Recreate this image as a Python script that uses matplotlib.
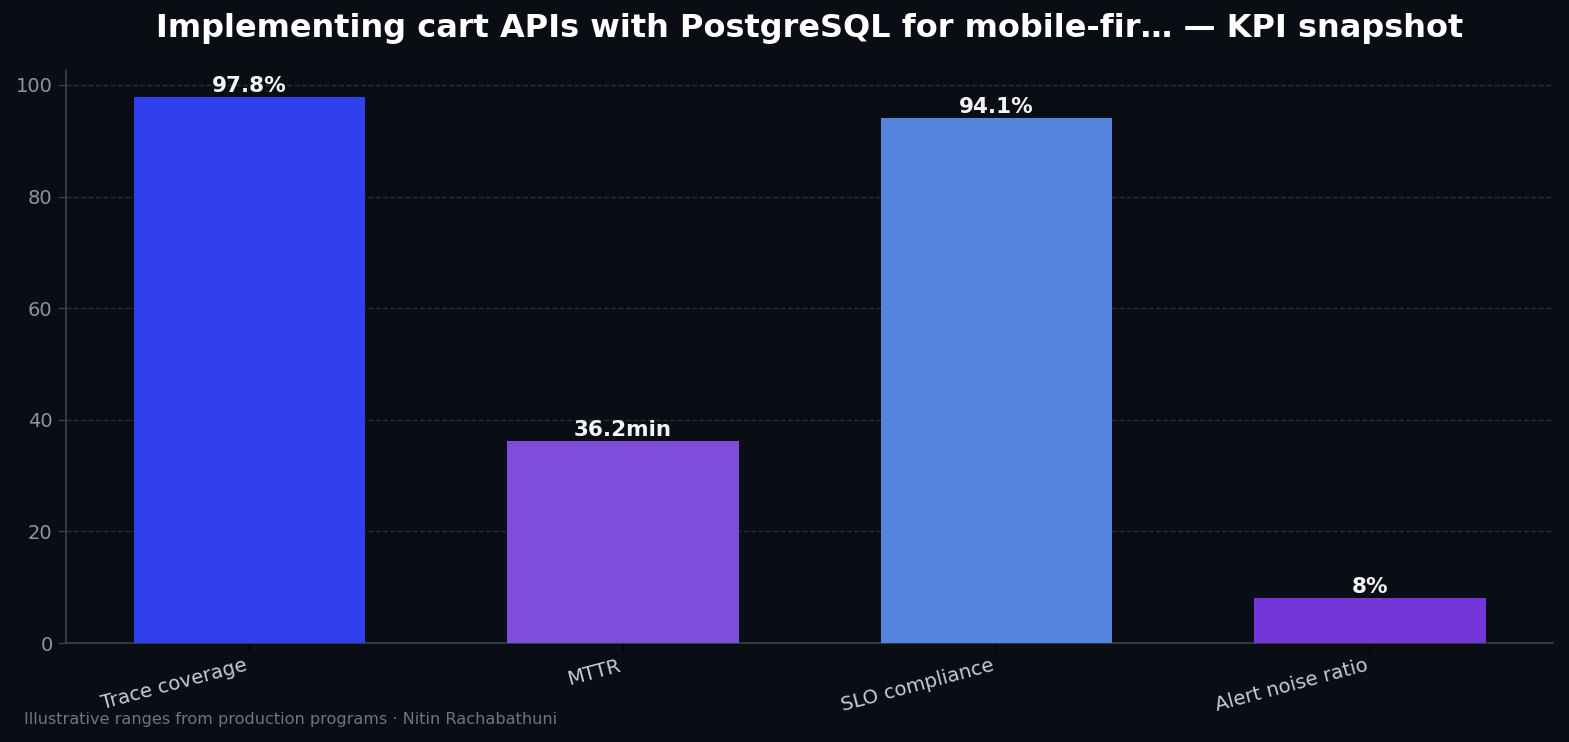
import matplotlib
matplotlib.use('Agg')
import matplotlib.pyplot as plt

# KPI values
metrics = ['Trace coverage', 'MTTR', 'SLO compliance', 'Alert noise ratio']
values = [97.8, 36.2, 94.1, 8.0]
labels = ['97.8%', '36.2min', '94.1%', '8%']
bar_colors = ['#2f3fec', '#7f4cdc', '#5584de', '#7436d8']

bg = '#0b0d14'
spine_col = '#394352'

fig, ax = plt.subplots(figsize=(15.69, 7.42), dpi=100)
fig.patch.set_facecolor(bg)
ax.set_facecolor(bg)

x = range(len(metrics))
bars = ax.bar(x, values, width=0.62, color=bar_colors, zorder=3)

# value labels on top of the bars
for b, lab in zip(bars, labels):
	ax.text(b.get_x() + b.get_width() / 2, b.get_height() + 0.2, lab,
		ha='center', va='bottom', color='#f2f4f8', fontsize=15.5, fontweight='bold', zorder=4)

ax.set_ylim(0, max(values) * 1.05)
ax.set_xticks(list(x))
ax.set_xticklabels(metrics, rotation=15, ha='right', color='#c6cbd6', fontsize=14.2)
ax.tick_params(axis='x', colors='#000000', labelcolor='#c6cbd6', length=6)
ax.tick_params(axis='y', colors=spine_col, labelcolor='#8b95a9', labelsize=14, length=6)

ax.grid(axis='y', linestyle='--', color='#3a4252', alpha=0.65, linewidth=1, zorder=0)
for side in ['top', 'right']:
	ax.spines[side].set_visible(False)
for side in ['left', 'bottom']:
	ax.spines[side].set_color(spine_col)
	ax.spines[side].set_linewidth(1.2)

ax.set_title('Implementing cart APIs with PostgreSQL for mobile-fir\u2026 \u2014 KPI snapshot',
	color='white', fontsize=23, fontweight='bold', pad=24)

fig.text(0.0153, 0.030, 'Illustrative ranges from production programs \u00b7 Nitin Rachabathuni',
	color='#6b7488', fontsize=11.6, ha='left', va='center')

plt.subplots_adjust(left=0.042, right=0.990, top=0.9057, bottom=0.1334)
plt.savefig('out.png', facecolor=bg, dpi=100)
